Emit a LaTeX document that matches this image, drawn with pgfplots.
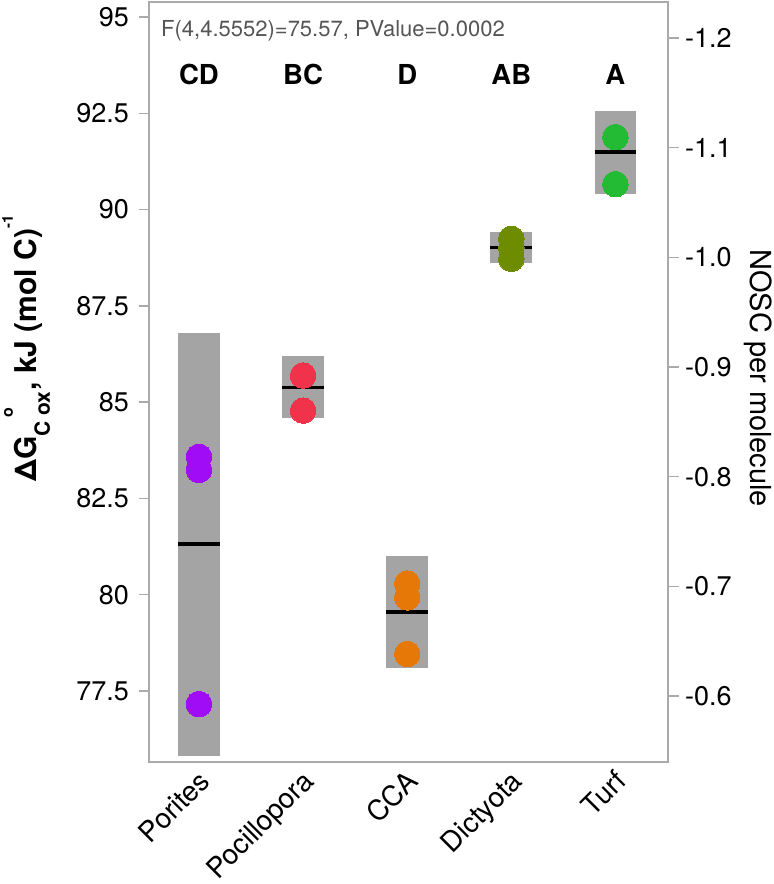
\documentclass[border=0pt]{standalone}
\usepackage{pgfplots}
\pgfplotsset{compat=1.18}
\usepackage{fontspec}
\setmainfont{TeX Gyre Heros}
\definecolor{framegray}{RGB}{170,170,170}
\definecolor{boxgray}{RGB}{164,164,164}
\definecolor{cpur}{RGB}{160,12,245}
\definecolor{cred}{RGB}{240,50,75}
\definecolor{cora}{RGB}{230,120,8}
\definecolor{coli}{RGB}{110,140,0}
\definecolor{cgre}{RGB}{34,187,51}
\definecolor{ftext}{RGB}{85,85,85}
\begin{document}
\begin{tikzpicture}
\useasboundingbox (-149pt,-122pt) rectangle (625pt,762pt);
\begin{axis}[
  at={(0pt,0pt)}, anchor=south west,
  scale only axis, width=519pt, height=760pt,
  xmin=-0.48, xmax=4.505, ymin=75.655, ymax=95.39,
  axis line style={framegray, line width=1.5pt},
  xtick={0,1,2,3,4},
  xticklabels={Porites,Pocillopora,CCA,Dictyota,Turf},
  xtick style={draw=none},
  x tick label style={rotate=45, anchor=north east, inner sep=0pt, yshift=4pt, xshift=1pt, font=\fontsize{28}{28}\selectfont},
  ytick={77.5,80,82.5,85,87.5,90,92.5,95},
  yticklabels={77.5,80,82.5,85,87.5,90,92.5,95},
  ytick pos=left,
  tick align=outside,
  major tick length=10pt,
  y tick style={framegray, line width=1.5pt},
  y tick label style={font=\fontsize{27}{27}\selectfont, inner sep=0pt, xshift=-10pt},
  ylabel={\bfseries ΔG\raisebox{-13pt}{\fontsize{21}{21}\selectfont C\hspace{6pt}ox}\llap{\makebox[42pt][c]{\raisebox{24pt}{\fontsize{16}{16}\selectfont o}}}\hspace{1pt}, kJ (mol C)\raisebox{24pt}{\fontsize{15}{15}\selectfont -1}},
  ylabel style={at={(axis description cs:-0.2158,0.544)}, anchor=base, font=\fontsize{30}{30}\selectfont},
  clip=false,
]
% boxes
\addplot[fill=boxgray, draw=none] coordinates {(-0.2,75.82) (0.2,75.82) (0.2,86.79) (-0.2,86.79)};
\addplot[fill=boxgray, draw=none] coordinates {(0.8,84.58) (1.2,84.58) (1.2,86.20) (0.8,86.20)};
\addplot[fill=boxgray, draw=none] coordinates {(1.8,78.09) (2.2,78.09) (2.2,81.00) (1.8,81.00)};
\addplot[fill=boxgray, draw=none] coordinates {(2.8,88.62) (3.2,88.62) (3.2,89.41) (2.8,89.41)};
\addplot[fill=boxgray, draw=none] coordinates {(3.8,90.40) (4.2,90.40) (4.2,92.56) (3.8,92.56)};
% means
\addplot[black, line width=3.5pt] coordinates {(-0.2,81.31) (0.2,81.31)};
\addplot[black, line width=3.5pt] coordinates {(0.8,85.38) (1.2,85.38)};
\addplot[black, line width=3.5pt] coordinates {(1.8,79.55) (2.2,79.55)};
\addplot[black, line width=3.5pt] coordinates {(2.8,89.01) (3.2,89.01)};
\addplot[black, line width=3.5pt] coordinates {(3.8,91.49) (4.2,91.49)};
% points
\addplot[only marks, mark=*, mark size=12.8pt, mark options={fill=cpur, draw=cpur, line width=0pt}] coordinates {(0,83.58) (0,83.24) (0,77.16)};
\addplot[only marks, mark=*, mark size=12.8pt, mark options={fill=cred, draw=cred, line width=0pt}] coordinates {(1,85.69) (1,85.69) (1,84.78)};
\addplot[only marks, mark=*, mark size=12.8pt, mark options={fill=cora, draw=cora, line width=0pt}] coordinates {(2,80.29) (2,79.93) (2,78.46)};
\addplot[only marks, mark=*, mark size=12.8pt, mark options={fill=coli, draw=coli, line width=0pt}] coordinates {(3,89.24) (3,89.01) (3,88.72)};
\addplot[only marks, mark=*, mark size=12.8pt, mark options={fill=cgre, draw=cgre, line width=0pt}] coordinates {(4,91.88) (4,91.88) (4,90.66)};
% letters
\addplot[only marks, mark=none, nodes near coords, point meta=explicit symbolic,
  every node near coord/.append style={anchor=base, inner sep=0pt, font=\bfseries\fontsize{27.5}{28}\selectfont, text=black}]
  table[row sep=\\, meta=lab] {x y lab\\ 0 93.26 CD\\ 1 93.26 BC\\ 2 93.26 D\\ 3 93.26 AB\\ 4 93.26 A\\};
\node[anchor=base west, inner sep=0pt, text=ftext, font=\fontsize{22}{22}\selectfont] at (axis description cs:0.0231,0.9543) {F(4,4.5552)=75.57, PValue=0.0002};
\end{axis}
\begin{axis}[
  at={(0pt,0pt)}, anchor=south west,
  scale only axis, width=519pt, height=760pt,
  xmin=-0.48, xmax=4.505, ymin=-1.2328, ymax=-0.5398, y dir=reverse,
  axis x line=none, axis y line*=right,
  axis line style={framegray, line width=1.5pt},
  ytick={-1.2,-1.1,-1.0,-0.9,-0.8,-0.7,-0.6},
  yticklabels={-1.2,-1.1,-1.0,-0.9,-0.8,-0.7,-0.6},
  tick align=outside, major tick length=11pt,
  y tick style={framegray, line width=1.5pt},
  y tick label style={font=\fontsize{27}{27}\selectfont, inner sep=0pt, xshift=6pt},
  clip=false,
]
\node[rotate=-90, anchor=base, inner sep=0pt, font=\fontsize{29}{29}\selectfont] at (axis description cs:1.158,0.505) {NOSC per molecule};
\end{axis}
\end{tikzpicture}
\end{document}
